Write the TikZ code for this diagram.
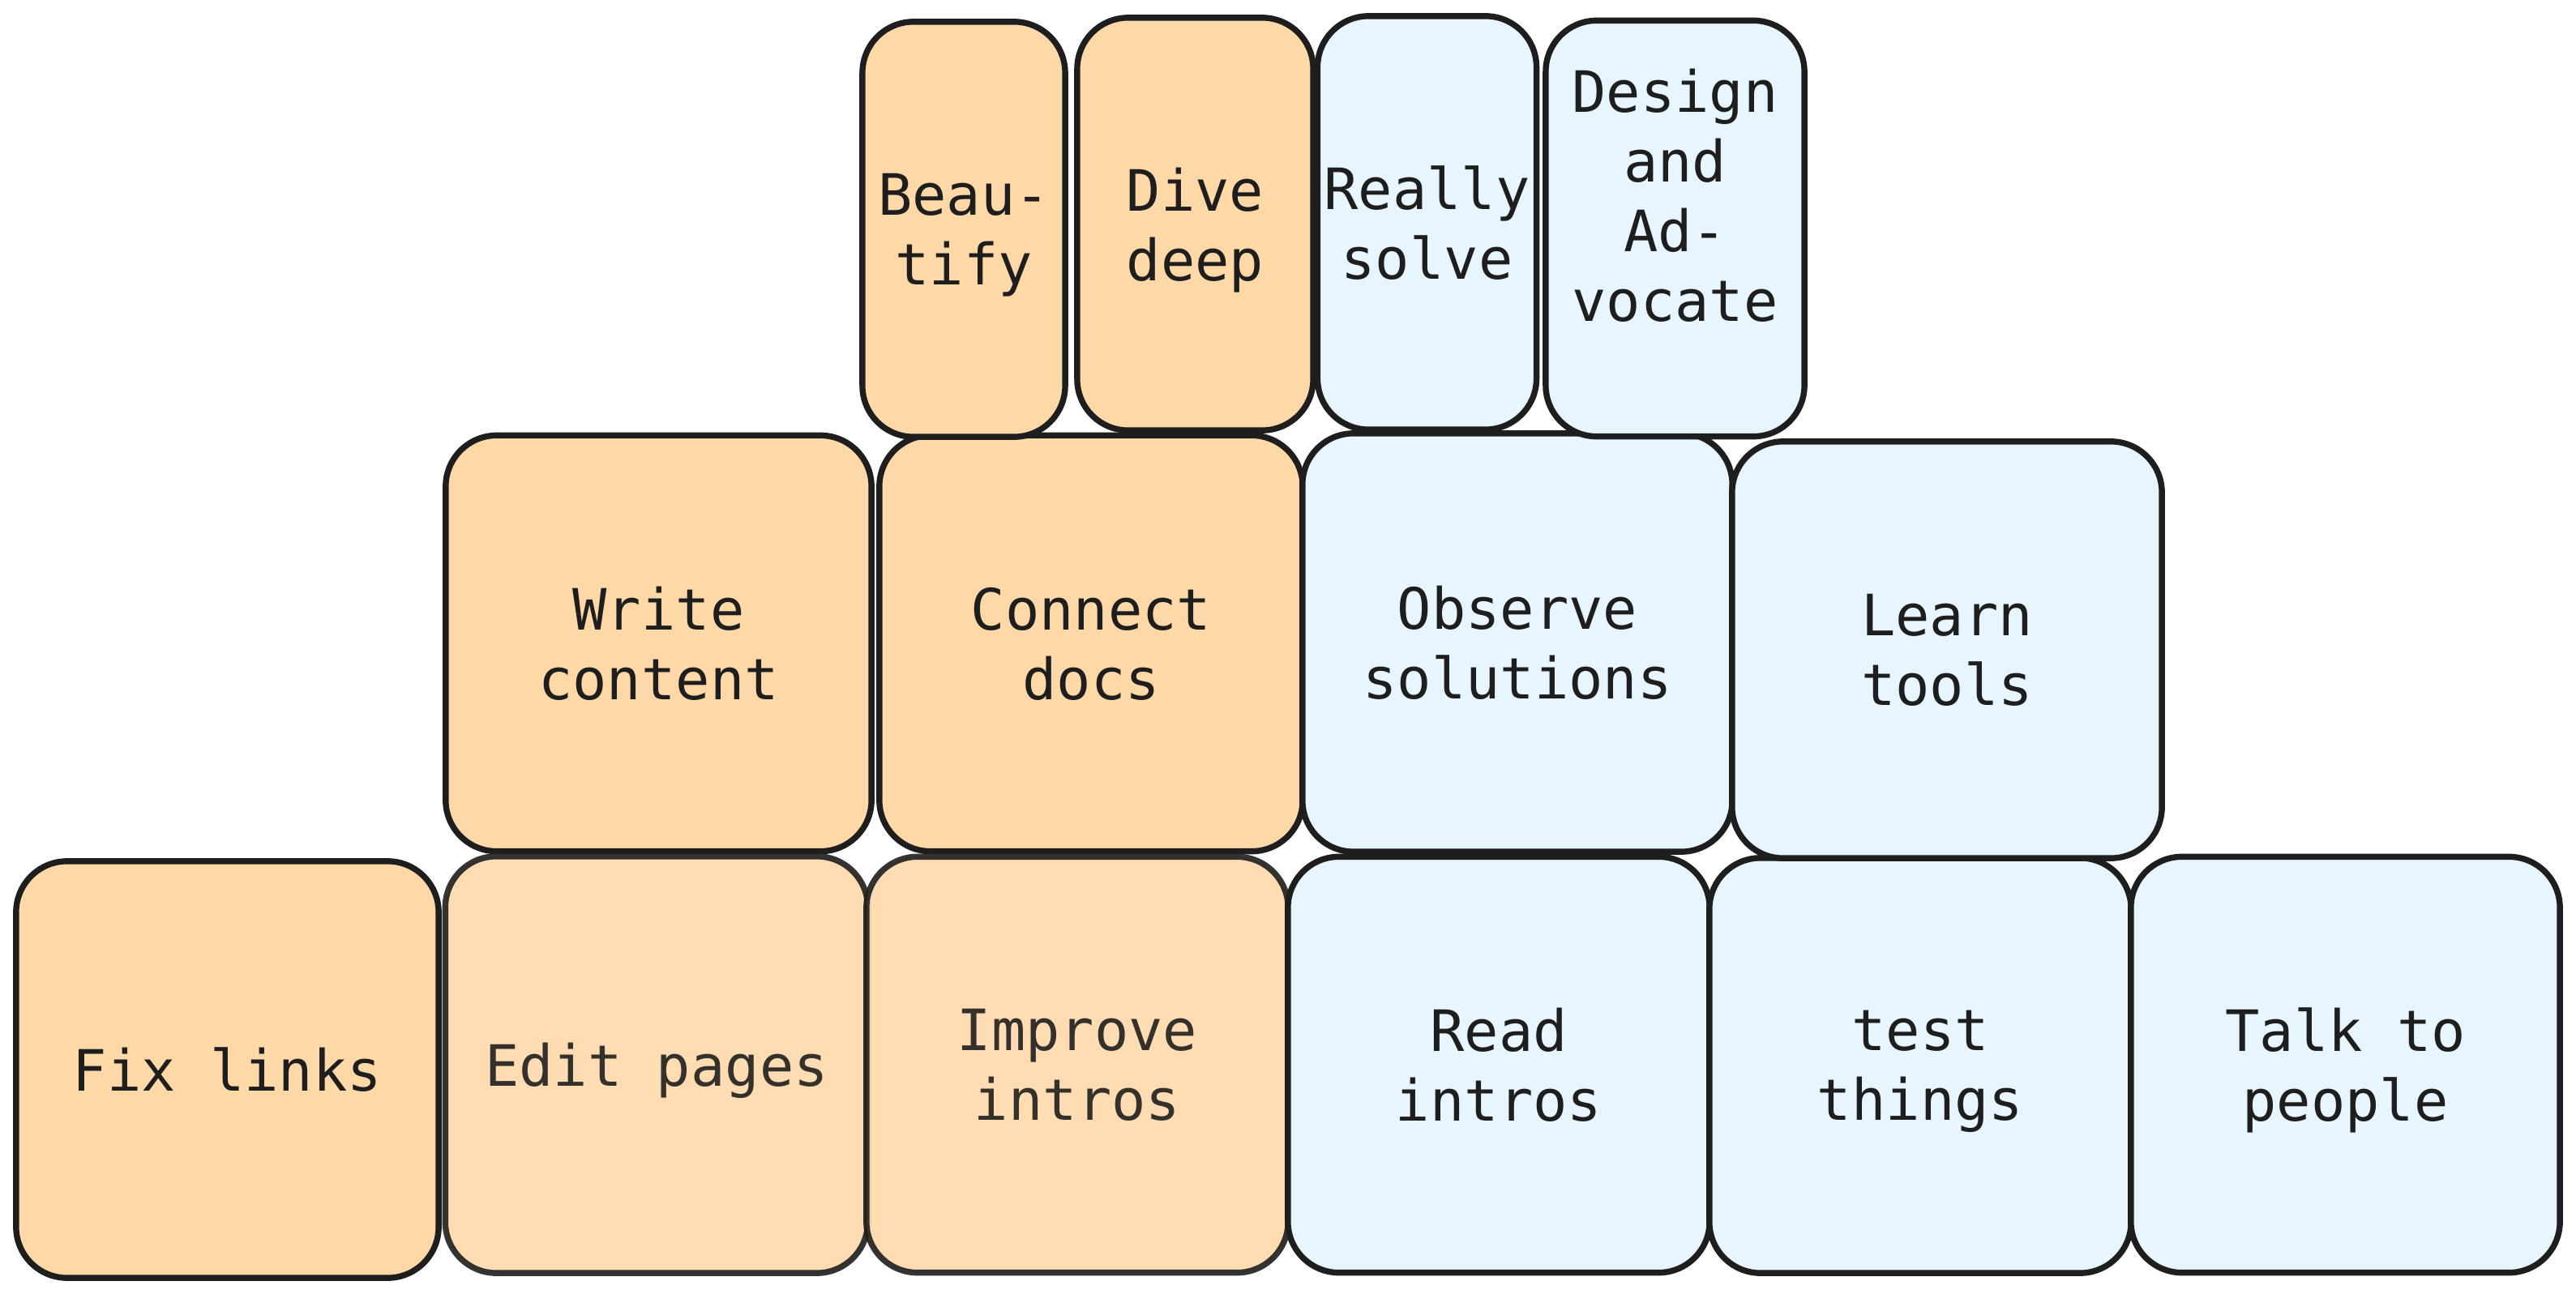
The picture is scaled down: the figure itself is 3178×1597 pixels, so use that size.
\documentclass[tikz,border=0pt]{standalone}
\usepackage{fontspec}
\newfontfamily\cardfont{DejaVu Sans Mono}
\definecolor{ink}{HTML}{1E1E1E}
\definecolor{warmfill}{HTML}{FFD8A8}
\definecolor{coolfill}{HTML}{E7F5FF}
\tikzset{
	cardtext/.style={align=center, text=ink, text depth=0pt, font=\cardfont\fontsize{20}{24.5}\selectfont},
	card/.style={cardtext, draw=ink, line width=2.1pt, rounded corners=0.63cm, inner sep=0pt},
	warm/.style={card, fill=warmfill},
	cool/.style={card, fill=coolfill},
	faded/.style={opacity=0.9}
}
\begin{document}
\begin{tikzpicture}[x=0.01cm, y=-0.01cm]
	\useasboundingbox (0,0) rectangle (3178,1597);
	% bottom row
	\node[warm, minimum width=5.21cm, minimum height=5.14cm] (fixlinks) at (280.5,1320) {Fix links};
	\node[warm, faded, minimum width=5.21cm, minimum height=5.14cm] (editpages) at (810,1314) {Edit pages};
	\node[warm, faded, minimum width=5.20cm, minimum height=5.13cm] (improve) at (1329,1314) {Improve\\intros};
	\node[cool, minimum width=5.20cm, minimum height=5.13cm] (readintros) at (1849,1314) {Read\\intros};
	\node[cool, minimum width=5.20cm, minimum height=5.12cm] (testthings) at (2369,1315) {test\\things};
	\node[cool, minimum width=5.29cm, minimum height=5.13cm] (talk) at (2893.5,1314) {Talk to\\people};
	% middle row
	\node[warm, minimum width=5.25cm, minimum height=5.13cm] (write) at (812.5,794) {Write\\content};
	\node[warm, minimum width=5.22cm, minimum height=5.13cm] (connect) at (1346,794) {Connect\\docs};
	\node[cool, minimum width=5.30cm, minimum height=5.16cm] (observe) at (1872,793) {Observe\\solutions};
	\node[cool, minimum width=5.30cm, minimum height=5.14cm] (learn) at (2402,802) {Learn\\tools};
	% top row
	\node[warm, minimum width=2.50cm, minimum height=5.12cm] (beautify) at (1189,283) {Beau-\\tify};
	\node[warm, minimum width=2.91cm, minimum height=5.09cm] (dive) at (1474.5,276.5) {Dive\\deep};
	\node[cool, minimum width=2.70cm, minimum height=5.10cm] (really) at (1760.5,275) {Really\\solve};
	\node[cool, minimum width=3.19cm, minimum height=5.13cm] (design) at (2066.5,282) {};
	\node[cardtext] (designtext) at ([yshift=0.41cm]design.center) {Design\\and\\Ad-\\vocate};
\end{tikzpicture}
\end{document}
